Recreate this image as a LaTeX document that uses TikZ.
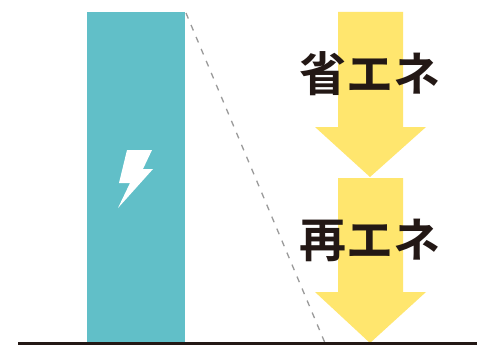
\documentclass[tikz,border=0pt]{standalone}
\usepackage{fontspec}
\newfontfamily\cjk{Noto Sans CJK JP Bold}
\definecolor{tealbar}{HTML}{61BFC8}
\definecolor{arrowy}{HTML}{FFE66E}
\definecolor{inkblack}{HTML}{231815}
\definecolor{dashgray}{HTML}{9A9A9A}
\tikzset{
  bigarrow/.style={fill=arrowy,draw=none},
  label text/.style={font=\cjk\fontsize{47}{47}\selectfont,text=inkblack,inner sep=0pt,anchor=center},
}
\begin{document}
\begin{tikzpicture}[x=1pt,y=-1pt]
\useasboundingbox (0,0) rectangle (477,345);
\fill[white] (0,0) rectangle (477,345);
\fill[tealbar] (87,12) rectangle (185,343);
\fill[white,line join=round] (127,150) -- (152,150) -- (143,169) -- (153,169) -- (118,208) -- (130,183) -- (119,183) -- cycle;
\draw[dashgray,line width=1.3pt,dash pattern=on 6pt off 7pt] (186,13) -- (325,343);
\fill[bigarrow] (338,12) -- (403,12) -- (403,127) -- (426,127) -- (370,177) -- (315,127) -- (338,127) -- cycle;
\fill[bigarrow] (338,178) -- (403,178) -- (403,292) -- (426,292) -- (370,343) -- (315,292) -- (338,292) -- cycle;
\fill[inkblack] (18,342) rectangle (477,345);
\node[label text] (shoene) at (370,74) {省エネ};
\node[label text] (saiene) at (370,240) {再エネ};
\end{tikzpicture}
\end{document}
